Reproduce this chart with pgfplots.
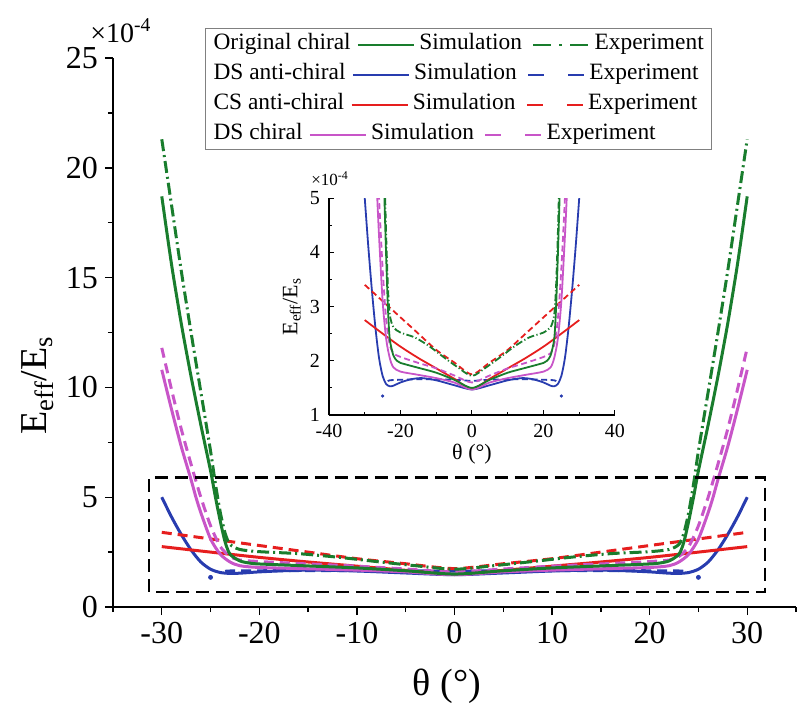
\documentclass[border=0pt]{standalone}
\usepackage{fontspec}
\setmainfont{Liberation Serif}
\usepackage{pgfplots}
\pgfplotsset{compat=1.18}
\usepackage{pgfplotstable}

\definecolor{cgreen}{RGB}{25,125,45}
\definecolor{cblue}{RGB}{40,60,175}
\definecolor{cred}{RGB}{230,30,30}
\definecolor{cmag}{RGB}{200,85,200}

% Original chiral, simulation
\pgfplotstableread{
t v
-30 18.7
-29 15.6
-28 12.9
-27 10.5
-26 8.3
-25 6.2
-24.5 5.0
-24 3.9
-23.5 2.95
-23 2.4
-22 2.1
-21 2.0
-20 1.96
-15 1.87
-10 1.78
-5 1.65
0 1.5
5 1.65
10 1.78
15 1.87
20 1.96
21 2.0
22 2.1
23 2.4
23.5 2.95
24 3.9
24.5 5.0
25 6.2
26 8.3
27 10.5
28 12.9
29 15.6
30 18.7
}\gsim
% Original chiral, experiment
\pgfplotstableread{
t v
-30 21.3
-29 18.3
-28 15.3
-27 12.5
-26 9.8
-25 7.1
-24.5 5.6
-24 4.3
-23.5 3.35
-23 2.85
-22 2.62
-20 2.52
-16 2.43
-12 2.27
-8 2.07
-4 1.88
0 1.72
4 1.88
8 2.07
12 2.27
16 2.43
20 2.52
22 2.62
23 2.85
23.5 3.35
24 4.3
24.5 5.6
25 7.1
26 9.8
27 12.5
28 15.3
29 18.3
30 21.3
}\gexp
% DS chiral, simulation
\pgfplotstableread{
t v
-30 10.8
-29 9.0
-28 7.3
-27 5.8
-26.5 5.0
-26 4.3
-25 3.1
-24 2.4
-23 2.05
-22 1.88
-20 1.8
-15 1.74
-10 1.68
-5 1.6
0 1.47
5 1.6
10 1.68
15 1.74
20 1.8
22 1.88
23 2.05
24 2.4
25 3.1
26 4.3
26.5 5.0
27 5.8
28 7.3
29 9.0
30 10.8
}\msim
% DS chiral, experiment
\pgfplotstableread{
t v
-30 11.8
-29 9.9
-28 8.1
-27 6.5
-26 5.0
-25 3.7
-24 2.75
-23 2.3
-22 2.14
-20 2.07
-15 1.96
-10 1.86
-5 1.73
0 1.6
5 1.73
10 1.86
15 1.96
20 2.07
22 2.14
23 2.3
24 2.75
25 3.7
26 5.0
27 6.5
28 8.1
29 9.9
30 11.8
}\mexp
% DS anti-chiral, simulation
\pgfplotstableread{
t v
-30 5.0
-29 4.1
-28 3.3
-27 2.6
-26 2.05
-25 1.72
-24 1.57
-23 1.53
-22 1.54
-20 1.6
-17 1.66
-14 1.68
-10 1.64
-5 1.55
0 1.47
5 1.55
10 1.64
14 1.68
17 1.66
20 1.6
22 1.54
23 1.53
24 1.57
25 1.72
26 2.05
27 2.6
28 3.3
29 4.1
30 5.0
}\bsim
% DS anti-chiral, experiment
\pgfplotstableread{
t v
-23.5 1.62
-23 1.64
-20 1.65
-15 1.66
-10 1.66
-5 1.65
0 1.63
5 1.65
10 1.66
15 1.66
20 1.65
23 1.64
23.5 1.62
}\bexp
% DS anti-chiral, experiment: isolated end points
\pgfplotstableread{
t v
-25 1.35
25 1.35
}\bexpend
% CS anti-chiral, simulation
\pgfplotstableread{
t v
-30 2.75
-25 2.5
-20 2.26
-15 2.05
-10 1.86
-5 1.67
0 1.48
5 1.67
10 1.86
15 2.05
20 2.26
25 2.5
30 2.75
}\rsim
% CS anti-chiral, experiment
\pgfplotstableread{
t v
-30 3.4
-25 3.1
-20 2.8
-15 2.5
-10 2.2
-5 1.97
0 1.75
5 1.97
10 2.2
15 2.5
20 2.8
25 3.1
30 3.4
}\rexp

% all eight curves: line width, dash scale, end-point mark size
\newcommand\curves[3]{%
  \addplot[cblue, line width=#1, smooth, tension=0.45] table[x=t,y=v] {\bsim};
  \addplot[cblue, line width=#1, smooth, tension=0.45, dash pattern=on #2*5pt off #2*3pt] table[x=t,y=v] {\bexp};
  \addplot[cblue, only marks, mark=*, mark size=#3] table[x=t,y=v] {\bexpend};
  \addplot[cred, line width=#1, smooth, tension=0.45] table[x=t,y=v] {\rsim};
  \addplot[cred, line width=#1, smooth, tension=0.45, dash pattern=on #2*5pt off #2*3pt] table[x=t,y=v] {\rexp};
  \addplot[cmag, line width=#1, smooth, tension=0.45] table[x=t,y=v] {\msim};
  \addplot[cmag, line width=#1, smooth, tension=0.45, dash pattern=on #2*5pt off #2*3pt] table[x=t,y=v] {\mexp};
  \addplot[cgreen, line width=#1, smooth, tension=0.45] table[x=t,y=v] {\gsim};
  \addplot[cgreen, line width=#1, smooth, tension=0.45, dash pattern=on #2*6pt off #2*2pt on #2*1pt off #2*2pt] table[x=t,y=v] {\gexp};
}

\newcommand\lsample[1]{\tikz[baseline=-0.45ex]\draw[line width=1.3pt,#1] (0,0)--(28pt,0);}

\begin{document}
\begin{tikzpicture}
\useasboundingbox (-56.5pt,-51pt) rectangle (343pt,303.5pt);

\begin{axis}[
  at={(0,0)}, anchor=south west, scale only axis,
  width=341.5pt, height=274.5pt,
  xmin=-35, xmax=35, ymin=0, ymax=25,
  axis lines*=left,
  axis line style={line width=0.8pt},
  xtick={-30,-20,...,30},
  xticklabels={-30,-20,-10,0,10,20,30},
  minor xtick={-35,-25,...,35},
  ytick={0,5,...,25},
  minor ytick={2.5,7.5,...,22.5},
  tick align=outside,
  major tick length=4pt, minor tick length=2.5pt,
  tick style={black, line width=0.7pt},
  /pgf/number format/assume math mode=true,
  ticklabel style={font=\fontsize{16}{18}\selectfont},
  xlabel={θ (°)},
  ylabel={E\textsubscript{eff}/E\textsubscript{s}},
  label style={font=\fontsize{19}{22}\selectfont},
  xlabel style={at={(axis description cs:0.489,-0.144)}, anchor=center},
  ylabel style={at={(axis description cs:-0.11,0.404)}, anchor=center},
  clip=true,
]
\curves{1.5pt}{1}{1pt}
\draw[black, line width=1.1pt, dash pattern=on 6.5pt off 3.5pt]
  (axis cs:-31.3,0.7) rectangle (axis cs:31.8,5.9);
\end{axis}

\node[anchor=base west, font=\fontsize{14}{16}\selectfont, inner sep=0pt]
  at (-11.5pt,282.5pt) {×10\textsuperscript{-4}};

\begin{axis}[
  at={(108pt,96pt)}, anchor=south west, scale only axis,
  width=143pt, height=108.5pt,
  xmin=-40, xmax=40, ymin=1, ymax=5,
  axis lines*=left,
  axis line style={line width=0.7pt},
  xtick={-40,-20,...,40},
  xticklabels={-40,-20,0,20,40},
  minor xtick={-30,-10,...,30},
  ytick={1,2,...,5},
  minor ytick={1.5,2.5,...,4.5},
  tick align=inside,
  major tick length=2.5pt, minor tick length=1.5pt,
  tick style={black, line width=0.5pt},
  /pgf/number format/assume math mode=true,
  ticklabel style={font=\fontsize{10}{12}\selectfont},
  yticklabel style={xshift=-1pt},
  xticklabel style={yshift=-1pt},
  xlabel={θ (°)},
  ylabel={E\textsubscript{eff}/E\textsubscript{s}},
  label style={font=\fontsize{11}{13}\selectfont},
  xlabel style={at={(axis description cs:0.5,-0.18)}, anchor=center},
  ylabel style={at={(axis description cs:-0.13,0.5)}, anchor=center},
]
\curves{0.9pt}{0.6}{0.6pt}
\end{axis}

\node[anchor=base west, font=\fontsize{8.5}{10}\selectfont, inner sep=0pt]
  at (99pt,211pt) {×10\textsuperscript{-4}};

% legend
\node[anchor=north west, draw=gray, line width=0.6pt, inner xsep=4pt, inner ysep=2.5pt,
      align=left, font=\fontsize{11.7}{15}\selectfont] at (46pt,289.5pt) {%
Original chiral\hspace{3pt}\lsample{cgreen}\hspace{2pt}Simulation\hspace{5pt}\lsample{cgreen,dash pattern=on 9pt off 4pt on 1.5pt off 4pt}\hspace{2pt}Experiment\\
DS anti-chiral\hspace{3pt}\lsample{cblue}\hspace{2pt}Simulation\hspace{5pt}\lsample{cblue,dash pattern=on 8pt off 12pt}\hspace{2pt}Experiment\\
CS anti-chiral\hspace{3pt}\lsample{cred}\hspace{2pt}Simulation\hspace{5pt}\lsample{cred,dash pattern=on 8pt off 12pt}\hspace{2pt}Experiment\\
DS chiral\hspace{3pt}\lsample{cmag}\hspace{2pt}Simulation\hspace{5pt}\lsample{cmag,dash pattern=on 8pt off 12pt}\hspace{2pt}Experiment};
\end{tikzpicture}
\end{document}
